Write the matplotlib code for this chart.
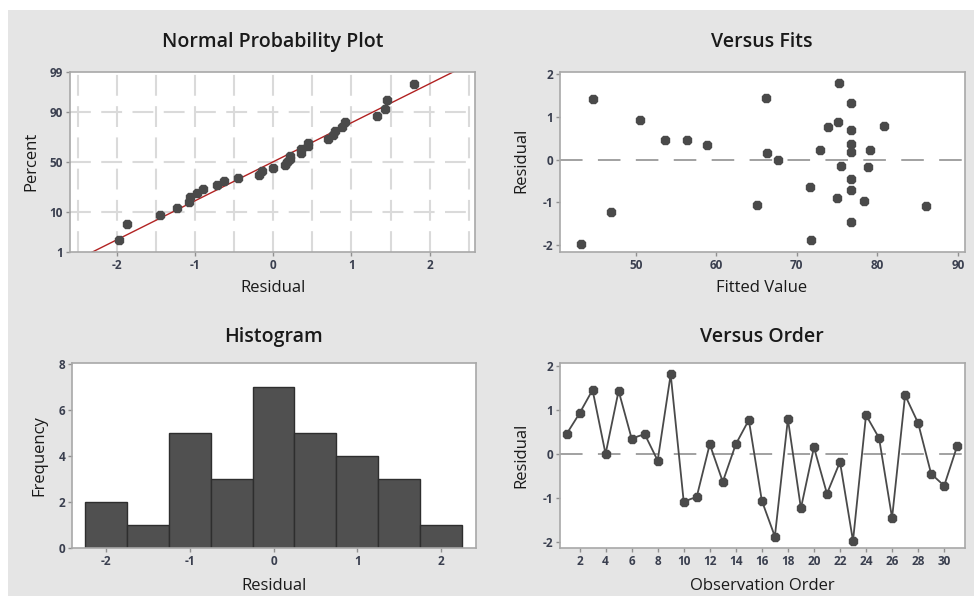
import numpy as np
import matplotlib
matplotlib.use("Agg")
import matplotlib.pyplot as plt
from matplotlib.patches import Rectangle
from statistics import NormalDist

# residuals in observation order
residuals = [0.45, 0.92, 1.45, 0.00, 1.43, 0.35, 0.45, -0.15, 1.80, -1.08,
             -0.97, 0.22, -0.63, 0.22, 0.77, -1.06, -1.87, 0.79, -1.23, 0.15,
             -0.90, -0.18, -1.97, 0.88, 0.36, -1.45, 1.33, 0.70, -0.45, -0.72,
             0.18]
# fitted values for the same observations
fits = [53.7, 50.5, 66.2, 67.7, 44.7, 58.9, 56.4, 75.5, 75.3, 86.0,
        78.4, 72.9, 71.6, 79.1, 73.9, 65.1, 71.8, 80.8, 46.9, 66.3,
        75.0, 78.9, 43.2, 75.1, 76.7, 76.7, 76.7, 76.7, 76.7, 76.7,
        76.7]
pct_ticks = [1, 10, 50, 90, 99]
hist_bins = [-2.25, -1.75, -1.25, -0.75, -0.25, 0.25, 0.75, 1.25, 1.75, 2.25]

resid = np.array(residuals)
order = np.arange(1, len(resid) + 1)
nd = NormalDist()
n = len(resid)

W, H = 974, 596
BG = "#e5e5e5"
MK = "#4a4a4a"
TICKC = "#3a3f4f"
TXT = "#1a1a1a"
plt.rcParams["font.family"] = ["Open Sans", "DejaVu Sans"]
plt.rcParams["axes.unicode_minus"] = False

fig = plt.figure(figsize=(W / 100, H / 100), dpi=100, facecolor="white")
fig.patches.append(Rectangle((8 / W, 0), 1, 1 - 10 / H, transform=fig.transFigure,
                             facecolor=BG, edgecolor="none", zorder=-10))


def make_ax(l, r, t, b):
    ax = fig.add_axes([l / W, 1 - b / H, (r - l) / W, (b - t) / H])
    ax.set_facecolor("white")
    for s in ax.spines.values():
        s.set_color("#a8a8a8")
        s.set_linewidth(1.2)
    ax.tick_params(length=3, width=1, color="#909090", labelsize=8.5,
                   labelcolor=TICKC, pad=2)
    return ax


def fig_text(x, y, s, size, weight="normal", rot=0):
    fig.text(x / W, 1 - y / H, s, ha="center", va="center", fontsize=size,
             fontweight=weight, rotation=rot, color=TXT)


def zero_line(ax):
    ax.axhline(0, color="#9a9a9a", lw=1.3, dashes=(12.5, 8.5), zorder=1)


def style_ticks(ax):
    for lab in ax.get_xticklabels() + ax.get_yticklabels():
        lab.set_fontweight("bold")


# Normal probability plot
ax1 = make_ax(70, 475, 72, 252)
srt = np.sort(resid)
pp = (np.arange(1, n + 1) - 0.3) / (n + 0.4)
zq = np.array([nd.inv_cdf(p) for p in pp])
mu, sd = resid.mean(), resid.std(ddof=1)
zl = np.linspace(-3, 3, 50)
for gx in np.arange(-2.5, 2.51, 0.5):
    ax1.axvline(gx, color="#dadada", lw=1.5, dashes=(10, 5), zorder=0)
for p in pct_ticks[1:-1]:
    ax1.axhline(nd.inv_cdf(p / 100), color="#dadada", lw=1.5, dashes=(10, 5), zorder=0)
ax1.plot(mu + sd * zl, zl, color="#b22222", lw=1.0, zorder=2)
ax1.plot(srt, zq, "8", color=MK, ms=6.5, zorder=3)
ax1.set_xlim(-2.6, 2.58)
ax1.set_ylim(nd.inv_cdf(0.01), nd.inv_cdf(0.99))
ax1.set_xticks([-2, -1, 0, 1, 2])
ax1.set_yticks([nd.inv_cdf(p / 100) for p in pct_ticks])
ax1.set_yticklabels([str(p) for p in pct_ticks])
style_ticks(ax1)
fig_text(273, 42, "Normal Probability Plot", 14, "semibold")
fig_text(273, 288, "Residual", 12)
fig_text(31, 161, "Percent", 12, rot=90)

# Versus fits
ax2 = make_ax(560, 965, 72, 252)
zero_line(ax2)
ax2.plot(fits, resid, "8", color=MK, ms=6.5, zorder=3)
ax2.set_xlim(40.6, 90.9)
ax2.set_ylim(-2.16, 2.05)
ax2.set_xticks([50, 60, 70, 80, 90])
ax2.set_yticks([-2, -1, 0, 1, 2])
style_ticks(ax2)
fig_text(762, 42, "Versus Fits", 14, "semibold")
fig_text(762, 288, "Fitted Value", 12)
fig_text(521, 160, "Residual", 12, rot=90)

# Histogram
ax3 = make_ax(72, 476, 363, 548)
ax3.hist(resid, bins=hist_bins, color="#505050", edgecolor="#2e2e2e", lw=1.0)
ax3.set_xlim(-2.41, 2.42)
ax3.set_ylim(0, 8.03)
ax3.set_xticks([-2, -1, 0, 1, 2])
ax3.set_yticks([0, 2, 4, 6, 8])
style_ticks(ax3)
fig_text(274, 337, "Histogram", 14, "semibold")
fig_text(274, 586, "Residual", 12)
fig_text(39, 456, "Frequency", 12, rot=90)

# Versus order
ax4 = make_ax(560, 965, 363, 548)
zero_line(ax4)
ax4.plot(order, resid, "-", color="#4a4a4a", lw=1.3, zorder=2)
ax4.plot(order, resid, "8", color=MK, ms=6.5, zorder=3)
ax4.set_xlim(0.5, 31.6)
ax4.set_ylim(-2.13, 2.06)
ax4.set_xticks(np.arange(2, 31, 2))
ax4.set_yticks([-2, -1, 0, 1, 2])
style_ticks(ax4)
fig_text(762, 337, "Versus Order", 14, "semibold")
fig_text(762, 586, "Observation Order", 12)
fig_text(521, 455, "Residual", 12, rot=90)

fig.savefig("out.png", dpi=100, facecolor="white")
